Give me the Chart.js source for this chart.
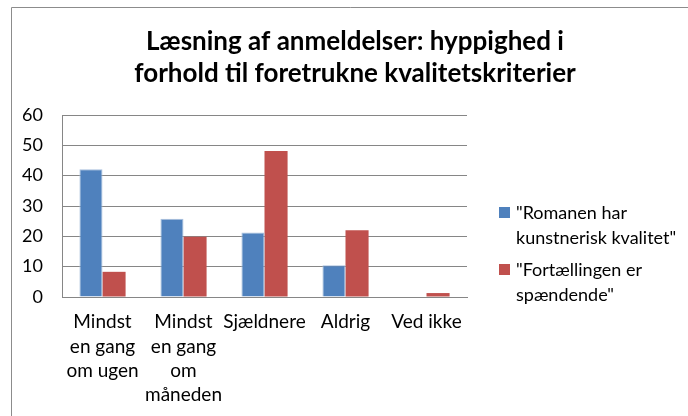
<!DOCTYPE html>
<html>
<head>
<meta charset="utf-8">
<script src="https://cdn.jsdelivr.net/npm/chart.js@4"></script>
<style>
html,body{margin:0;padding:0;background:#fff;}
#wrap{position:relative;width:688px;height:416px;}
</style>
</head>
<body>
<div id="wrap"><canvas id="c" width="688" height="416"></canvas></div>
<script>
const titleLines = ["Læsning af anmeldelser: hyppighed i", "forhold til foretrukne kvalitetskriterier"];
const categories = [
  ["Mindst", "en gang", "om ugen"],
  ["Mindst", "en gang", "om", "måneden"],
  "Sjældnere",
  "Aldrig",
  "Ved ikke"
];
const seriesNames = ['"Romanen har kunstnerisk kvalitet"', '"Fortællingen er spændende"'];
const legendLines = [['"Romanen har', 'kunstnerisk kvalitet"'], ['"Fortællingen er', 'spændende"']];
const romanen = [42.1, 25.8, 21.3, 10.5, 0];
const fortaellingen = [8.3, 19.9, 48.1, 22.0, 1.3];
const yTicks = [0, 10, 20, 30, 40, 50, 60];

const FONT = "Lato, 'Open Sans', sans-serif";
const colors = ['#4F81BD', '#C0504D'];

const decor = {
  id: 'decor',
  beforeDraw(chart) {
    const ctx = chart.ctx;
    ctx.save();
    ctx.strokeStyle = '#8c8c8c';
    ctx.lineWidth = 1;
    ctx.beginPath();
    ctx.moveTo(11.5, 430);
    ctx.lineTo(11.5, 7.5);
    ctx.lineTo(700, 7.5);
    ctx.stroke();
    ctx.restore();
  },
  afterDraw(chart) {
    const ctx = chart.ctx;
    ctx.save();
    // title
    ctx.fillStyle = '#000';
    ctx.font = "bold 26px " + FONT;
    ctx.textAlign = 'center';
    ctx.textBaseline = 'alphabetic';
    ctx.fillText(titleLines[0], 355, 50);
    ctx.fillText(titleLines[1], 355, 82);
    // legend
    ctx.font = "18px " + FONT;
    ctx.textAlign = 'left';
    const starts = [219, 276];
    legendLines.forEach((lines, i) => {
      ctx.fillStyle = colors[i];
      ctx.fillRect(499, starts[i] - 12, 11, 11);
      ctx.fillStyle = '#000';
      lines.forEach((ln, j) => ctx.fillText(ln, 516, starts[i] + j * 25));
    });
    ctx.restore();
  }
};

new Chart(document.getElementById('c'), {
  type: 'bar',
  data: {
    labels: categories,
    datasets: [
      { label: seriesNames[0], data: romanen, backgroundColor: colors[0], borderColor: '#a9c0dd', borderWidth: {top:1,left:1,right:1,bottom:0} },
      { label: seriesNames[1], data: fortaellingen, backgroundColor: colors[1], borderColor: '#c0504d', borderWidth: 0 }
    ]
  },
  options: {
    responsive: false,
    animation: false,
    devicePixelRatio: 1,
    layout: { padding: { top: 115, right: 221, left: 0, bottom: 0 } },
    plugins: { legend: { display: false }, title: { display: false }, tooltip: { enabled: false } },
    datasets: { bar: { categoryPercentage: 0.57, barPercentage: 1.0 } },
    scales: {
      x: {
        grid: { display: false, drawTicks: false },
        border: { display: true, color: '#868686' },
        ticks: { color: '#000', font: { family: FONT, size: 19, lineHeight: 1.28 }, maxRotation: 0, autoSkip: false, padding: 13 },
        afterFit(s) { s.height = 119; }
      },
      y: {
        min: 0, max: 60,
        afterBuildTicks(s) { s.ticks = yTicks.map(v => ({ value: v })); },
        grid: { color: '#868686', drawTicks: false },
        border: { display: true, color: '#868686' },
        ticks: { color: '#000', font: { family: FONT, size: 18 }, padding: 19 },
        afterFit(s) { s.width = 62; }
      }
    }
  },
  plugins: [decor]
});
</script>
</body>
</html>
